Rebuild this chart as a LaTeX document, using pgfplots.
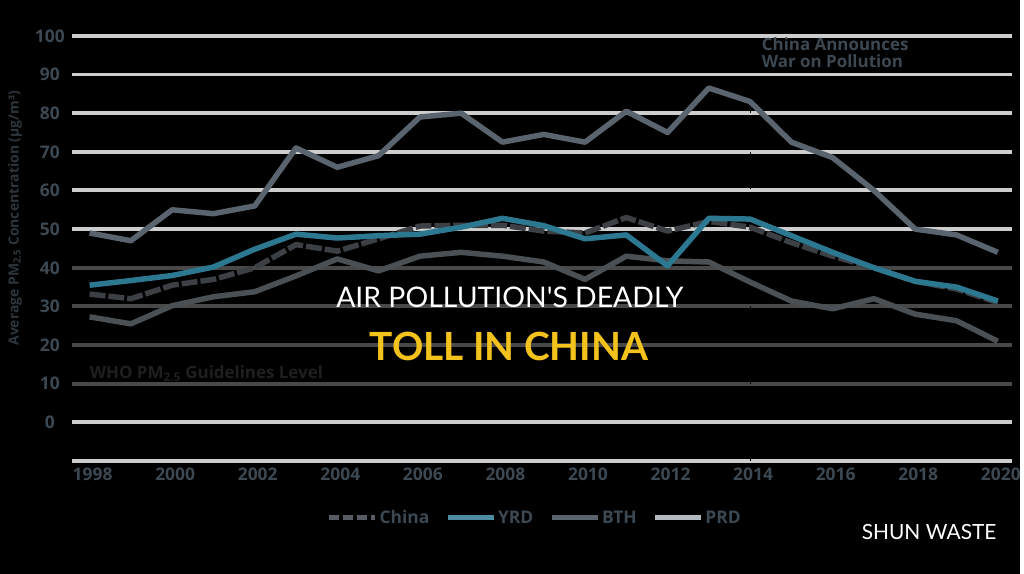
\documentclass[border=0pt]{standalone}
\usepackage{fontspec}
\setmainfont{Open Sans}
\newfontfamily\latofont{Lato}
\usepackage{pgfplots}
\pgfplotsset{compat=1.18}
\definecolor{gridlight}{HTML}{CDCDCD}
\definecolor{griddark}{HTML}{484848}
\definecolor{labelc}{HTML}{3C4852}
\definecolor{bthc}{HTML}{59646E}
\definecolor{prdc}{HTML}{4B5054}
\definecolor{chinac}{HTML}{3C4045}
\definecolor{yrdc}{HTML}{2C7890}
\definecolor{prdleg}{HTML}{B2BAC2}
\definecolor{chinaleg}{HTML}{565B64}
\definecolor{yellowc}{HTML}{F4C21C}

\pgfplotstableread{
year china yrd bth prd
1998 33.2 35.5 49.0 27.3
1999 32.0 36.7 47.0 25.5
2000 35.5 38.0 55.0 30.2
2001 37.0 40.2 54.0 32.5
2002 40.0 44.8 56.0 33.8
2003 46.0 48.7 71.0 37.9
2004 44.3 47.7 66.0 42.3
2005 47.5 48.3 69.0 39.2
2006 50.8 48.7 79.0 43.0
2007 51.0 50.5 80.0 44.0
2008 51.0 52.8 72.5 43.0
2009 49.5 50.9 74.5 41.5
2010 49.0 47.5 72.5 37.0
2011 53.0 48.5 80.5 43.0
2012 49.5 40.5 75.0 41.8
2013 52.0 52.8 86.5 41.5
2014 50.5 52.6 83.0 36.3
2015 46.5 48.3 72.5 31.4
2016 43.0 44.0 68.5 29.4
2017 40.0 40.0 60.0 32.0
2018 36.5 36.5 50.0 28.0
2019 34.5 35.0 48.5 26.3
2020 31.0 31.4 44.0 21.0
}\pmdata

\begin{document}
\begin{tikzpicture}
\fill[black] (0pt,0pt) rectangle (1024pt,576pt);
\begin{axis}[
  at={(72pt,113pt)}, anchor=south west, scale only axis,
  width=944pt, height=427pt,
  xmin=1997.566, xmax=2020.338, ymin=-10, ymax=100,
  axis x line*=bottom, axis y line*=left,
  separate axis lines,
  x axis line style={gridlight, line width=4pt, -},
  y axis line style={draw=none},
  major tick length=0pt,
  xtick={1998,2000,...,2020},
  ytick={0,50,60,70,80,90,100},
  extra y ticks={10,20,30,40},
  ymajorgrids,
  grid style={gridlight, line width=4pt},
  extra y tick style={grid style={griddark, line width=4pt}},
  /pgf/number format/assume math mode=true,
  /pgf/number format/1000 sep={},
  tick label style={font=\bfseries\fontsize{17.5}{17.5}\selectfont, text=labelc},
  xticklabel style={yshift=-3pt, xshift=3pt},
  yticklabel style={anchor=center, xshift=-22pt},
  ylabel={Average PM\textsubscript{2.5} Concentration (µg/m³)},
  ylabel style={at={(axis description cs:-0.0604,0.571)}, anchor=center,
    font=\bfseries\fontsize{14}{14}\selectfont, text=labelc!75!black},
  clip=false,
  legend columns=4,
  legend style={at={(axis description cs:0.4926,-0.1335)}, anchor=center,
    draw=none, fill=none, text=labelc,
    font=\bfseries\fontsize{17.5}{17.5}\selectfont,
    /tikz/every even column/.append style={column sep=14pt}},
  legend image code/.code={\draw[#1] (0pt,0pt) -- (46pt,0pt);},
]
\addlegendimage{chinaleg, line width=5pt, dash pattern=on 10pt off 4pt}
\addlegendentry{China}
\addlegendimage{yrdc!85!white, line width=5pt}
\addlegendentry{YRD}
\addlegendimage{bthc, line width=5pt}
\addlegendentry{BTH}
\addlegendimage{prdleg, line width=5pt}
\addlegendentry{PRD}

\draw[black, line width=1.2pt, dash pattern=on 2pt off 5pt] (axis cs:2014,-10) -- (axis cs:2014,100);

\addplot[forget plot, prdc, line width=5.5pt, line join=round] table[x=year, y=prd] {\pmdata};
\addplot[forget plot, chinac, line width=5.5pt, line join=round, dash pattern=on 16pt off 3pt] table[x=year, y=china] {\pmdata};
\addplot[forget plot, yrdc, line width=5.5pt, line join=round] table[x=year, y=yrd] {\pmdata};
\addplot[forget plot, bthc, line width=5.5pt, line join=round] table[x=year, y=bth] {\pmdata};

\node[anchor=north west, align=left, inner sep=0pt, text=labelc,
  font=\bfseries\fontsize{17}{17}\selectfont] at (axis cs:2014.28,99.6)
  {China Announces\\War on Pollution};
\node[anchor=west, inner sep=0pt, text=black!88,
  font=\bfseries\fontsize{17}{17}\selectfont] at (axis cs:1998,12.6)
  {WHO PM\textsubscript{2.5} Guidelines Level};
\end{axis}
\node[anchor=base, inner sep=0pt, text=white, font=\latofont\fontsize{28.5}{28.5}\selectfont] at (512pt,267pt) {AIR POLLUTION'S DEADLY};
\node[anchor=base, inner sep=0pt, text=yellowc, font=\latofont\bfseries\fontsize{39}{39}\selectfont] at (511pt,214pt) {TOLL IN CHINA};
\node[anchor=base, inner sep=0pt, text=white, font=\latofont\fontsize{21}{21}\selectfont] at (933pt,34pt) {SHUN WASTE};
\end{tikzpicture}
\end{document}
